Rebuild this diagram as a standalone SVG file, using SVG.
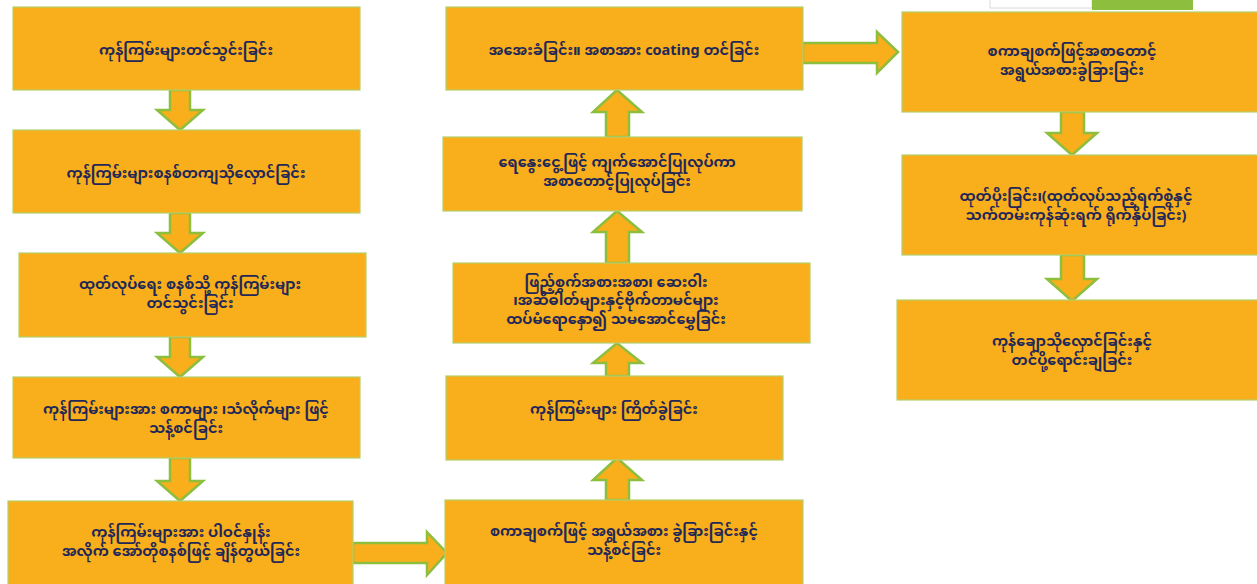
<svg xmlns="http://www.w3.org/2000/svg" width="1257" height="584" viewBox="0 0 1257 584">
  <style>
    .box { fill: #F9AE1B; stroke: #B5CF6B; stroke-width: 1.2; }
    .arrow { fill: #F9AE1B; stroke: #8DBE3E; stroke-width: 2.5; stroke-linejoin: miter; }
    .lbl { font-family: "Noto Sans Myanmar", "Padauk", "Myanmar Text", "Noto Sans", "DejaVu Sans", sans-serif; font-size: 14.5px; font-weight: bold; fill: #1F2858; text-anchor: middle; }
  </style>
  <rect width="1257" height="584" fill="#FFFFFF"/>

  <!-- partial shapes along the top edge -->
  <rect x="990" y="-2" width="102" height="10" fill="#FFFFFF" stroke="#D9D9D9" stroke-width="1"/>
  <rect x="1092" y="-2" width="101" height="12" fill="#8DBE3E"/>

  <!-- connectors -->
  <g id="connectors">
    <!-- left column, downward -->
    <path class="arrow" d="M170,90 L190,90 L190,110 L203,110 L180,130 L157,110 L170,110 Z"/>
    <path class="arrow" d="M170,213 L190,213 L190,233 L203,233 L180,253 L157,233 L170,233 Z"/>
    <path class="arrow" d="M170,337 L190,337 L190,357 L203,357 L180,377 L157,357 L170,357 Z"/>
    <path class="arrow" d="M170,458 L190,458 L190,481 L203,481 L180,501 L157,481 L170,481 Z"/>
    <!-- bottom, to the right -->
    <path class="arrow" d="M353,543 L427,543 L427,532 L447,553 L427,575 L427,563 L353,563 Z"/>
    <!-- middle column, upward -->
    <path class="arrow" d="M606,500 L606,480 L593,480 L617,458 L642,480 L629,480 L629,500 Z"/>
    <path class="arrow" d="M606,376 L606,363 L593,363 L617,343 L642,363 L629,363 L629,376 Z"/>
    <path class="arrow" d="M606,263 L606,232 L593,232 L617,211 L642,232 L629,232 L629,263 Z"/>
    <path class="arrow" d="M606,137 L606,112 L593,112 L617,90 L642,112 L629,112 L629,137 Z"/>
    <!-- top, to the right -->
    <path class="arrow" d="M803,43 L877,43 L877,32 L898,52 L877,73 L877,63 L803,63 Z"/>
    <!-- right column, downward -->
    <path class="arrow" d="M1061,112 L1084,112 L1084,133 L1097,133 L1072,155 L1047,133 L1061,133 Z"/>
    <path class="arrow" d="M1061,255 L1084,255 L1084,279 L1097,279 L1072,301 L1047,279 L1061,279 Z"/>
  </g>

  <!-- left column -->
  <g id="n1">
    <rect class="box" x="13" y="7" width="347" height="83"/>
    <text class="lbl" x="186" y="55">ကုန်ကြမ်းများတင်သွင်းခြင်း</text>
  </g>
  <g id="n2">
    <rect class="box" x="13" y="130" width="347" height="83"/>
    <text class="lbl" x="186" y="178">ကုန်ကြမ်းများစနစ်တကျသိုလှောင်ခြင်း</text>
  </g>
  <g id="n3">
    <rect class="box" x="19" y="253" width="347" height="84"/>
    <text class="lbl" x="190" y="289">ထုတ်လုပ်ရေး စနစ်သို့ ကုန်ကြမ်းများ</text>
    <text class="lbl" x="190" y="308">တင်သွင်းခြင်း</text>
  </g>
  <g id="n4">
    <rect class="box" x="13" y="377" width="347" height="81"/>
    <text class="lbl" x="186" y="414">ကုန်ကြမ်းများအား စကာများ ၊သံလိုက်များ ဖြင့်</text>
    <text class="lbl" x="186" y="433">သန့်စင်ခြင်း</text>
  </g>
  <g id="n5">
    <rect class="box" x="8" y="501" width="345" height="90"/>
    <text class="lbl" x="181" y="537">ကုန်ကြမ်းများအား ပါဝင်နှုန်း</text>
    <text class="lbl" x="181" y="556">အလိုက် အော်တိုစနစ်ဖြင့် ချိန်တွယ်ခြင်း</text>
  </g>

  <!-- middle column -->
  <g id="n6">
    <rect class="box" x="445" y="500" width="358" height="90"/>
    <text class="lbl" x="624" y="536">စကာချစက်ဖြင့် အရွယ်အစား ခွဲခြားခြင်းနှင့်</text>
    <text class="lbl" x="624" y="555">သန့်စင်ခြင်း</text>
  </g>
  <g id="n7">
    <rect class="box" x="446" y="376" width="337" height="84"/>
    <text class="lbl" x="614" y="414">ကုန်ကြမ်းများ ကြိတ်ခွဲခြင်း</text>
  </g>
  <g id="n8">
    <rect class="box" x="453" y="263" width="357" height="80"/>
    <text class="lbl" x="616" y="287">ဖြည့်စွက်အစားအစာ၊ ဆေးဝါး</text>
    <text class="lbl" x="616" y="305">၊အဆီဓါတ်များနှင့်ဗိုက်တာမင်များ</text>
    <text class="lbl" x="616" y="324">ထပ်မံရောနှော၍ သမအောင်မွှေခြင်း</text>
  </g>
  <g id="n9">
    <rect class="box" x="443" y="137" width="359" height="74"/>
    <text class="lbl" x="617" y="167">ရေနွေးငွေ့ဖြင့် ကျက်အောင်ပြုလုပ်ကာ</text>
    <text class="lbl" x="617" y="186">အစာတောင့်ပြုလုပ်ခြင်း</text>
  </g>
  <g id="n10">
    <rect class="box" x="446" y="7" width="357" height="83"/>
    <text class="lbl" x="624" y="55">အအေးခံခြင်း။ အစာအား coating တင်ခြင်း</text>
  </g>

  <!-- right column -->
  <g id="n11">
    <rect class="box" x="902" y="12" width="360" height="100"/>
    <text class="lbl" x="1072" y="56">စကာချစက်ဖြင့်အစာတောင့်</text>
    <text class="lbl" x="1072" y="75">အရွယ်အစားခွဲခြားခြင်း</text>
  </g>
  <g id="n12">
    <rect class="box" x="902" y="155" width="360" height="100"/>
    <text class="lbl" x="1076" y="201">ထုတ်ပိုးခြင်း၊(ထုတ်လုပ်သည့်ရက်စွဲနှင့်</text>
    <text class="lbl" x="1076" y="220">သက်တမ်းကုန်ဆုံးရက် ရိုက်နှိပ်ခြင်း)</text>
  </g>
  <g id="n13">
    <rect class="box" x="897" y="300" width="365" height="100"/>
    <text class="lbl" x="1072" y="346">ကုန်ချောသိုလှောင်ခြင်းနှင့်</text>
    <text class="lbl" x="1072" y="365">တင်ပို့ရောင်းချခြင်း</text>
  </g>
</svg>
